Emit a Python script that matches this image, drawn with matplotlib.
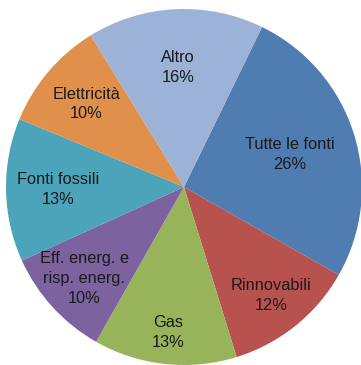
import numpy as np
import matplotlib
matplotlib.use("Agg")
import matplotlib.pyplot as plt

plt.rcParams['font.family'] = ['Liberation Sans', 'DejaVu Sans']

# dati del grafico (senso orario, partendo da "Tutte le fonti")
labels = ["Tutte le fonti", "Rinnovabili", "Gas", "Eff. energ. e\nrisp. energ.",
          "Fonti fossili", "Elettricità", "Altro"]
values = [26, 12, 13, 10, 13, 10, 16]
colors = ["#4f7db2", "#b8524f", "#98b45b", "#7d62a0", "#4ba4ba", "#e0904b", "#9cb2d6"]

# distanza radiale delle etichette (come le piazza Excel)
label_r = [0.62, 0.78, 0.82, 0.76, 0.71, 0.72, 0.67]

fig = plt.figure(figsize=(3.61, 3.65), dpi=100)
ax = fig.add_axes([0, 0, 1, 1])

wedges, _ = ax.pie(values, colors=colors, startangle=64, counterclock=False,
                   radius=1.0, wedgeprops=dict(linewidth=0))

for w, lab, v, r in zip(wedges, labels, values, label_r):
    ang = np.deg2rad((w.theta1 + w.theta2) / 2)
    x, y = r * np.cos(ang), r * np.sin(ang)
    ax.text(x, y, f"{lab}\n{v}%", ha="center", va="center", fontsize=11.8,
            color="#1a1a1a", linespacing=1.4)

ax.set_aspect("auto")
ax.set_xlim(-184 / 178, (361 - 184) / 178)
ax.set_ylim(-(365 - 187) / 178, 187 / 178)
ax.axis("off")

fig.savefig("out.png", dpi=100)
